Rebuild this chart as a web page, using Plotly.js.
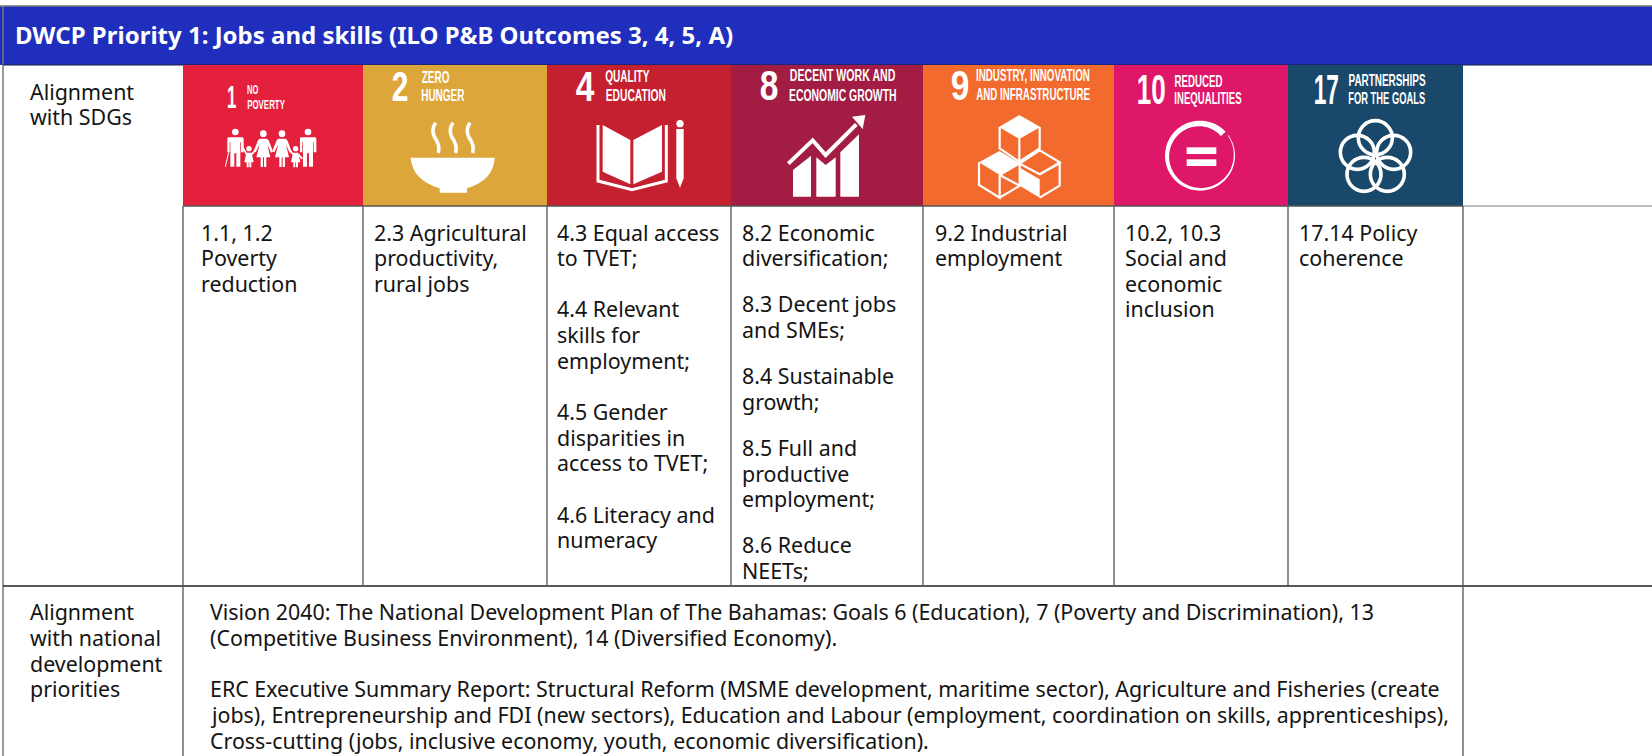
<!DOCTYPE html>
<html>
<head>
<meta charset="utf-8">
<script src="https://cdn.plot.ly/plotly-3.0.1.min.js"></script>
<style>html,body{margin:0;padding:0;background:#fff;overflow:hidden}#chart{width:1652px;height:756px}</style>
</head>
<body>
<div id="chart"></div>
<script>
const headerText = "DWCP Priority 1: Jobs and skills (ILO P&amp;B Outcomes 3, 4, 5, A)";
const colEdges = [183, 363, 547, 731, 923, 1114, 1288, 1463];
const tileColors = ["#E5203C", "#DDA63A", "#C4202F", "#A21C43", "#F26A2E", "#DE1768", "#19486A"];
const tileNumbers = ["1", "2", "4", "8", "9", "10", "17"];
const tileLine1 = ["NO", "ZERO", "QUALITY", "DECENT WORK AND", "INDUSTRY, INNOVATION", "REDUCED", "PARTNERSHIPS"];
const tileLine2 = ["POVERTY", "HUNGER", "EDUCATION", "ECONOMIC GROWTH", "AND INFRASTRUCTURE", "INEQUALITIES", "FOR THE GOALS"];
const sdgCells = [
  [["1.1, 1.2", "Poverty", "reduction"]],
  [["2.3 Agricultural", "productivity,", "rural jobs"]],
  [["4.3 Equal access", "to TVET;"], ["4.4 Relevant", "skills for", "employment;"], ["4.5 Gender", "disparities in", "access to TVET;"], ["4.6 Literacy and", "numeracy"]],
  [["8.2 Economic", "diversification;"], ["8.3 Decent jobs", "and SMEs;"], ["8.4 Sustainable", "growth;"], ["8.5 Full and", "productive", "employment;"], ["8.6 Reduce", "NEETs;"]],
  [["9.2 Industrial", "employment"]],
  [["10.2, 10.3", "Social and", "economic", "inclusion"]],
  [["17.14 Policy", "coherence"]]
];
const rowLabel1 = ["Alignment", "with SDGs"];
const rowLabel2 = ["Alignment", "with national", "development", "priorities"];
const nationalText = [
  ["Vision 2040: The National Development Plan of The Bahamas: Goals 6 (Education), 7 (Poverty and Discrimination), 13", "(Competitive Business Environment), 14 (Diversified Economy)."],
  ["ERC Executive Summary Report: Structural Reform (MSME development, maritime sector), Agriculture and Fisheries (create", "jobs), Entrepreneurship and FDI (new sectors), Education and Labour (employment, coordination on skills, apprenticeships),", "Cross-cutting (jobs, inclusive economy, youth, economic diversification)."]
];

// layout constants
const TOP = 6, HEAD = 65, TILE = 206, ROW2 = 586, W = 1652, H = 756;
const LINE = "#555555";
const FONT = "Noto Sans, sans-serif";
const FS = 21.4, PITCH = 25.65, PITCH3 = 25.8, INK = "#141414";
const cellLeft = [201, 374, 557, 742, 934.5, 1125, 1299];
const cellGap = [25.65, 25.65, 25.65, 20.5, 25.65, 25.65, 25.65];
// horizontal spans in tile-local 3x pixels: number, line 1, line 2
const numSpan = [[131,159],[85,135],[85,141],[85,141],[82,138],[70,157],[78,154]];
const numMid = [97,62,63,60,60,72,72];
const numSize = [31,43,43,43,43,42,42];
const l1Span = [[193,227],[175,258],[175,308],[175,492],[158,500],[182,326],[182,413]];
const l2Span = [[193,306],[175,305],[176,357],[175,498],[158,500],[182,384],[182,413]];
const l1Mid = [74,36,35,32,30,48,47];
const l2Mid = [117,91,91,90,89,100,99];
const labelSize = [13,17,17,17,17,16,16];

const shapes = [], annotations = [], squeeze = [];
function rect(x0,y0,x1,y1,fill){shapes.push({type:"rect",xref:"x",yref:"y",x0,y0,x1,y1,fillcolor:fill,line:{width:0},layer:"above"});}
function seg(x0,y0,x1,y1,c,w){shapes.push({type:"line",xref:"x",yref:"y",x0,y0,x1,y1,line:{color:c||LINE,width:w||1.3},layer:"above"});}
function text(t,x,y,opt){
  opt=opt||{};
  annotations.push({xref:"x",yref:"y",x,y,text:t,showarrow:false,xanchor:opt.anchor||"left",yanchor:"middle",align:"left",borderpad:0,borderwidth:0,
    font:{family:opt.family||FONT,size:opt.size||FS,color:opt.color||INK,weight:opt.weight||400}});
}
// local icon path (3x tile pixels) → axis coordinates
function ipath(i,d,o){
  o=o||{};
  const dx=o.dx||0, dy=o.dy||0;
  const p=d.replace(/(-?[\d.]+) (-?[\d.]+)/g,(m,a,b)=>((+a+dx)/3+colEdges[i]).toFixed(2)+","+((+b+dy)/3+HEAD).toFixed(2));
  shapes.push({type:"path",xref:"x",yref:"y",path:p,fillcolor:o.stroke?"rgba(0,0,0,0)":"#fff",
    line:o.stroke?{color:"#fff",width:o.stroke}:{width:0},layer:"above"});
}
function icircle(i,cx,cy,r,o){
  o=o||{};
  const x=colEdges[i]+cx/3,y=HEAD+cy/3,R=r/3;
  shapes.push({type:"circle",xref:"x",yref:"y",x0:x-R,x1:x+R,y0:y-R,y1:y+R,fillcolor:o.stroke?"rgba(0,0,0,0)":"#fff",
    line:o.stroke?{color:"#fff",width:o.stroke}:{width:0},layer:"above"});
}

// base table
rect(0,TOP,W,HEAD,"#1F2EBD");
seg(0,TOP,W,TOP,"#777",1.3);
seg(3,TOP,3,H,"#777",1.5);
seg(3,HEAD,W,HEAD,"#1b1b3a",1.2);
tileColors.forEach((c,i)=>rect(colEdges[i],HEAD,colEdges[i+1],TILE,c));
seg(colEdges[7],TILE,W,TILE,"#aaa",1.3);
seg(colEdges[0],TILE,colEdges[7],TILE,LINE,1.4);
seg(3,ROW2,W,ROW2,"#222",1.3);
colEdges.forEach(x=>seg(x,TILE,x,ROW2));
seg(colEdges[0],ROW2,colEdges[0],H);
seg(colEdges[7],ROW2,colEdges[7],H);

// icons
const man="M136 217 Q133 217 133 222 L133 262 L140 262 L140 232 L142 232 L142 305 L154 305 L154 265 L160 265 L160 305 L172 305 L172 232 L174 232 L174 262 L182 262 L182 222 Q182 217 178 217 Z";
const woman="M232 221 Q226 222 224 228 L212 258 L218 262 L230 238 L220 277 L233 277 L233 306 L240 306 L240 277 L243 277 L243 306 L250 306 L250 277 L262 277 L253 238 L264 263 L270 260 L258 228 Q256 222 250 221 Z";
const child="M190 263 L206 263 L212 292 L205 292 L205 307 L199 307 L199 292 L197 292 L197 307 L191 307 L191 292 L184 292 Z";
ipath(0,man);ipath(0,man,{dx:218});icircle(0,157,201,10);icircle(0,375,201,10);
ipath(0,"M127 305 L137 262",{stroke:1});
ipath(0,woman);ipath(0,woman,{dx:56});icircle(0,241,206,10);icircle(0,297,206,10);
ipath(0,child);ipath(0,child,{dx:140});icircle(0,198,251,8);icircle(0,338,251,8);
ipath(0,"M178 245 L191 268",{stroke:1.8});ipath(0,"M206 268 L220 252",{stroke:1.8});
ipath(0,"M318 252 L330 268",{stroke:1.8});ipath(0,"M347 268 L358 282",{stroke:1.8});

ipath(1,"M143 278 L395 278 Q392 345 312 370 L312 383 L230 383 L230 370 Q148 345 143 278 Z");
[0,52,103].forEach(dx=>ipath(1,"M218 173 Q203 195 215 217 Q232 240 226 264",{dx,stroke:3.6}));

ipath(2,"M167 180 L250 225 L250 358 L167 320 Z");
ipath(2,"M259 225 L345 180 L345 320 L259 358 Z");
ipath(2,"M153 180 L153 348 L255 374 L358 348 L358 180",{stroke:3});
icircle(2,399,176,11);
ipath(2,"M388 192 L410 192 L410 340 L399 368 L388 340 Z");

ipath(3,"M186 395 L186 315 L240 272 L240 395 Z");
ipath(3,"M256 395 L256 277 L284 300 L314 277 L314 395 Z");
ipath(3,"M328 395 L328 262 L384 208 L384 395 Z");
ipath(3,"M172 296 L245 226 L284 270 L376 178",{stroke:4});
ipath(3,"M363 155 L403 150 L395 192 Z");

ipath(4,"M289 150 L352 186 L289 222 L228 186 Z");
ipath(4,"M230 186 L230 250 L289 290 L350 250 L350 186",{stroke:2.2});
ipath(4,"M289 222 L289 290",{stroke:2.2});
ipath(4,"M229 258 L290 294 L230 330 L168 292 Z");
ipath(4,"M290 296 L350 256 L410 292 L350 328 Z",{stroke:2.2});
ipath(4,"M290 308 L350 343 L350 398 L290 362 Z");
ipath(4,"M350 328 L410 295 L410 362 L350 398",{stroke:2.2});
ipath(4,"M168 292 L168 360 L230 398 L230 330",{stroke:2.2});
ipath(4,"M230 330 L290 295 L290 362 L230 398 M230 330 L290 362",{stroke:2.2});

// ring of goal 10: tapering band
(function(){
  const cx=258,cy=272,R=105,a0=-43,a1=-396,n=90,out=[],inn=[];
  for(let k=0;k<=n;k++){
    const t=k/n,a=(a0+(a1-a0)*t)*Math.PI/180,th=19-17*t;
    out.push((cx+R*Math.cos(a)).toFixed(1)+" "+(cy+R*Math.sin(a)).toFixed(1));
    inn.unshift((cx+(R-th)*Math.cos(a)).toFixed(1)+" "+(cy+(R-th)*Math.sin(a)).toFixed(1));
  }
  ipath(5,"M"+out.join(" L")+" L"+inn.join(" L")+" Z");
})();
ipath(5,"M218 247 L307 247 L307 267 L218 267 Z");
ipath(5,"M218 283 L307 283 L307 303 L218 303 Z");

[[262,218],[208,262],[317,262],[228,328],[298,328]].forEach(c=>icircle(6,c[0],c[1],51,{stroke:3.6}));

// tile text
function squeezed(t,i,span,mid,size){
  squeeze.push({idx:annotations.length,len:(span[1]-span[0])/3});
  text(t,colEdges[i]+(span[0]+span[1])/6,HEAD+mid/3,{anchor:"center",family:"Liberation Sans, sans-serif",size,color:"#fff",weight:700});
}
tileNumbers.forEach((t,i)=>{
  squeezed(t,i,numSpan[i],numMid[i],numSize[i]);
  squeezed(tileLine1[i],i,l1Span[i],l1Mid[i],labelSize[i]);
  squeezed(tileLine2[i],i,l2Span[i],l2Mid[i],labelSize[i]);
});

// cell text
text(headerText,15,34.5,{size:24,color:"#fff",weight:700});
rowLabel1.forEach((t,k)=>text(t,30,91+k*PITCH));
rowLabel2.forEach((t,k)=>text(t,30,611.5+k*PITCH3));
sdgCells.forEach((paras,i)=>{
  let y=232;
  paras.forEach(lines=>{
    lines.forEach(t=>{text(t,cellLeft[i],y);y+=PITCH;});
    y+=cellGap[i];
  });
});
{
  let y=611.5;
  nationalText.forEach(lines=>{
    lines.forEach(t=>{text(t,209.6,y);y+=PITCH3;});
    y+=PITCH3;
  });
}

const axis={range:[0,W],visible:false,fixedrange:true,showgrid:false,zeroline:false};
Plotly.newPlot("chart",[{type:"scatter",x:[0,W],y:[0,H],mode:"markers",marker:{opacity:0},hoverinfo:"skip",showlegend:false}],{
  width:W,height:H,margin:{l:0,r:0,t:0,b:0},paper_bgcolor:"#fff",plot_bgcolor:"#fff",showlegend:false,
  xaxis:axis,yaxis:Object.assign({},axis,{range:[H,0]}),shapes,annotations
},{staticPlot:true,displayModeBar:false}).then(()=>{
  squeeze.forEach(s=>{
    const g=document.querySelector('.annotation[data-index="'+s.idx+'"]');
    const el=g&&g.querySelector("text");
    if(el){
      const orig=el.getComputedTextLength();
      const x=parseFloat(el.getAttribute("x"))||0;
      const left=x+(orig-s.len)/2;
      el.setAttribute("transform","translate("+left+",0) scale("+(s.len/orig)+",1) translate("+(-x)+",0)");
      const bg=g.querySelector("rect");
      if(bg){
        const bx=parseFloat(bg.getAttribute("x"))||0;
        bg.setAttribute("x",bx+(orig-s.len)/2);
        bg.setAttribute("width",s.len);
      }
    }
  });
});
</script>
</body>
</html>
